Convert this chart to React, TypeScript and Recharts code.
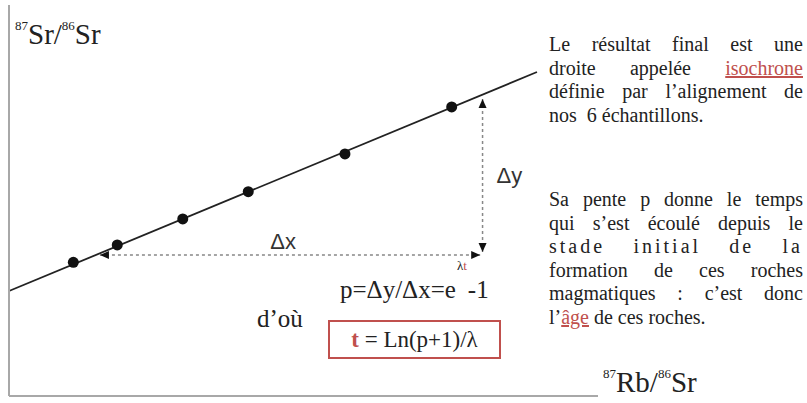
import {
  ComposedChart,
  Customized,
  Label,
  Line,
  ReferenceDot,
  ReferenceLine,
  Scatter,
  XAxis,
  YAxis,
} from "recharts";

// 87Rb/86Sr and 87Sr/86Sr of the six samples
const sampleRb = [0.546, 0.919, 1.475, 2.031, 2.852, 3.758];
const sampleSr = [0.71368, 0.71545, 0.71811, 0.7209, 0.72476, 0.72957];

// isochron ends
const isochronRb = [0, 4.482];
const isochronSr = [0.71074, 0.73315];

// Δx / Δy construction
const deltaXRb = [0.772, 4.0];
const deltaXSr = 0.71442;
const deltaYRb = 4.02;
const deltaYSr = [0.71473, 0.73038];

const RED = "#c0504d";
const SERIF = '"Liberation Serif", "Times New Roman", Times, "DejaVu Serif", serif';
const SANS = '"Liberation Sans", Arial, sans-serif';

const samples = sampleRb.map((x, i) => ({ x, y: sampleSr[i] }));
const isochron = isochronRb.map((x, i) => ({ x, y: isochronSr[i] }));

const para1 = [
  ["Le résultat final est une"],
  ["droite appelée ", "isochrone"],
  ["définie par l’alignement de"],
];
const para1Last = "nos  6 échantillons.";
const para2 = [
  "Sa pente p donne le temps",
  "qui s’est écoulé depuis le",
  "stade initial de la",
  "formation de ces roches",
  "magmatiques : c’est donc",
];

const arrow = (dir: "left" | "right" | "up" | "down") => (props: any) => {
  const { cx, cy } = props;
  const l = 9;
  const w = 4;
  let pts = "";
  if (dir === "left") pts = `${cx},${cy} ${cx + l},${cy - w} ${cx + l},${cy + w}`;
  if (dir === "right") pts = `${cx},${cy} ${cx - l},${cy - w} ${cx - l},${cy + w}`;
  if (dir === "up") pts = `${cx},${cy} ${cx - w},${cy + l} ${cx + w},${cy + l}`;
  if (dir === "down") pts = `${cx},${cy} ${cx - w},${cy - l} ${cx + w},${cy - l}`;
  return <polygon points={pts} fill="#111" />;
};

const Annotations = () => (
  <g fontFamily={SERIF} fill="#222">
    <line x1={9} y1={5} x2={9} y2={396} stroke="#a8a8a8" strokeWidth={2} />
    <text x={15} y={44} fontSize={29}>
      <tspan fontSize={13} dy={-14}>87</tspan>
      <tspan dy={14}>Sr/</tspan>
      <tspan fontSize={13} dy={-14}>86</tspan>
      <tspan dy={14}>Sr</tspan>
    </text>
    <text x={603} y={392} fontSize={29}>
      <tspan fontSize={13} dy={-14}>87</tspan>
      <tspan dy={14}>Rb/</tspan>
      <tspan fontSize={13} dy={-14}>86</tspan>
      <tspan dy={14}>Sr</tspan>
    </text>
    <text x={340} y={298} fontSize={25}>
      <tspan>p=Δy/Δx=e</tspan>
      <tspan fontSize={13} dy={-28} dx={1}>λ</tspan>
      <tspan fontSize={13} fill={RED}>t</tspan>
      <tspan dy={28} dx={1}>-1</tspan>
    </text>
    <text x={257} y={327} fontSize={25}>d’où</text>
    <rect x={329} y={321} width={171} height={37} fill="#fff" stroke={RED} strokeWidth={2} />
    <text x={414.5} y={347} fontSize={23} textAnchor="middle">
      <tspan fill={RED} fontWeight="bold">t</tspan>
      <tspan> = Ln(p+1)/λ</tspan>
    </text>
  </g>
);

const lineStyle = {
  textAlign: "justify" as const,
  textAlignLast: "justify" as const,
  whiteSpace: "nowrap" as const,
  height: 23.6,
};

export default function App() {
  return (
    <div style={{ position: "absolute", left: 0, top: 0, width: 807, height: 403, background: "#fff" }}>
      <ComposedChart
        width={807}
        height={403}
        margin={{ top: 5, right: 209, bottom: 6, left: 8 }}
      >
        <XAxis
          type="number"
          dataKey="x"
          domain={[0, 5]}
          height={1}
          tick={false}
          tickLine={false}
          axisLine={{ stroke: "#a8a8a8", strokeWidth: 2 }}
        />
        <YAxis
          type="number"
          dataKey="y"
          domain={[0.7, 0.74]}
          width={1}
          tick={false}
          tickLine={false}
          axisLine={{ stroke: "#a8a8a8", strokeWidth: 2 }}
        />
        <ReferenceLine
          segment={[
            { x: deltaXRb[0], y: deltaXSr },
            { x: deltaXRb[1], y: deltaXSr },
          ]}
          stroke="#888"
          strokeWidth={1.5}
          strokeDasharray="3 3"
        >
          <Label value="Δx" position="top" offset={6} dx={-7} fontSize={22} fontFamily={SANS} fill="#333" />
        </ReferenceLine>
        <ReferenceLine
          segment={[
            { x: deltaYRb, y: deltaYSr[0] },
            { x: deltaYRb, y: deltaYSr[1] },
          ]}
          stroke="#888"
          strokeWidth={1.5}
          strokeDasharray="3 3"
        >
          <Label value="Δy" position="right" offset={14} fontSize={22} fontFamily={SANS} fill="#333" />
        </ReferenceLine>
        <Line
          data={isochron}
          dataKey="y"
          stroke="#222"
          strokeWidth={1.8}
          dot={false}
          isAnimationActive={false}
        />
        <Scatter
          data={samples}
          dataKey="y"
          fill="#111"
          isAnimationActive={false}
          shape={(p: any) => <circle cx={p.cx} cy={p.cy} r={5.5} fill="#111" />}
        />
        <ReferenceDot x={deltaXRb[0]} y={deltaXSr} shape={arrow("left")} />
        <ReferenceDot x={deltaXRb[1]} y={deltaXSr} shape={arrow("right")} />
        <ReferenceDot x={deltaYRb} y={deltaYSr[1]} shape={arrow("up")} />
        <ReferenceDot x={deltaYRb} y={deltaYSr[0]} shape={arrow("down")} />
        <Customized component={Annotations} />
      </ComposedChart>
      <div
        style={{
          position: "absolute",
          left: 549,
          top: 33,
          width: 254,
          fontFamily: SERIF,
          fontSize: 20,
          lineHeight: "23.6px",
          color: "#222",
        }}
      >
        {para1.map((parts, i) => (
          <div key={i} style={lineStyle}>
            {parts[0]}
            {parts[1] && (
              <span style={{ color: RED, textDecoration: "underline" }}>{parts[1]}</span>
            )}
          </div>
        ))}
        <div style={{ whiteSpace: "pre", height: 23.6 }}>{para1Last}</div>
      </div>
      <div
        style={{
          position: "absolute",
          left: 549,
          top: 188,
          width: 254,
          fontFamily: SERIF,
          fontSize: 20,
          lineHeight: "23.6px",
          color: "#222",
        }}
      >
        {para2.map((t, i) => (
          <div key={i} style={{ ...lineStyle, letterSpacing: i === 2 ? 3 : 0 }}>
            {t}
          </div>
        ))}
        <div style={{ height: 23.6 }}>
          l’<span style={{ color: RED, textDecoration: "underline" }}>âge</span> de ces roches.
        </div>
      </div>
    </div>
  );
}
